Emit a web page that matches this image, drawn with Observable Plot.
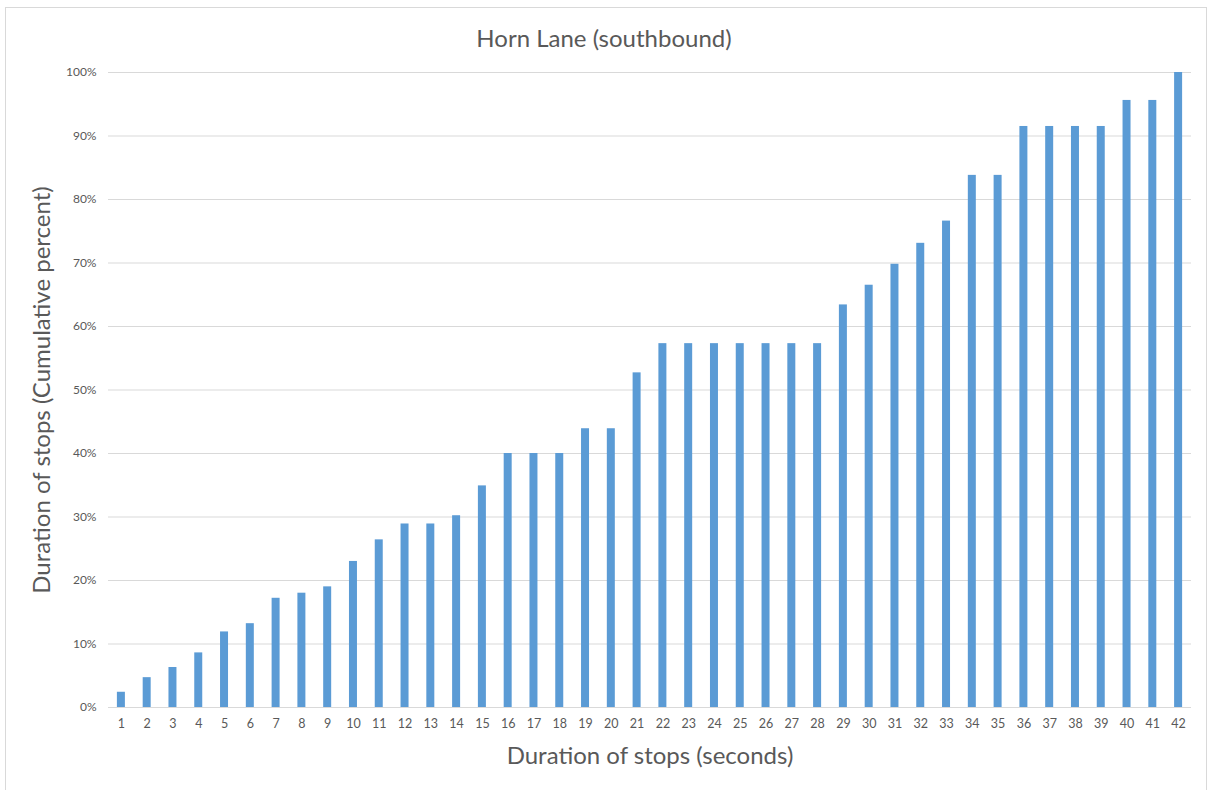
<!DOCTYPE html>
<html>
<head>
<meta charset="utf-8">
<script src="https://cdn.jsdelivr.net/npm/d3@7"></script>
<script src="https://cdn.jsdelivr.net/npm/@observablehq/plot@0.6"></script>
<style>
  html, body { margin: 0; padding: 0; background: #fff; }
  #wrap { position: relative; width: 1208px; height: 790px; overflow: hidden; font-family: Lato, "Open Sans", sans-serif; }
  #frame { position: absolute; left: 5px; top: 7px; width: 1202px; height: 800px; border: 1px solid #d9d9d9; box-sizing: border-box; }
  #title { position: relative; box-sizing: border-box; height: 56px; padding-top: 24px; line-height: 28px; text-align: center; font-size: 24px; color: #595959; }
  #chart { position: relative; }
</style>
</head>
<body>
<div id="wrap">
  <div id="frame"></div>
  <div id="title">Horn Lane (southbound)</div>
  <div id="chart"></div>
</div>
<script>
const durations = ["1","2","3","4","5","6","7","8","9","10","11","12","13","14","15","16","17","18","19","20","21","22","23","24","25","26","27","28","29","30","31","32","33","34","35","36","37","38","39","40","41","42"];
const cumulativePercent = [2.4, 4.7, 6.3, 8.6, 11.9, 13.2, 17.2, 18.0, 19.0, 23.0, 26.4, 28.9, 28.9, 30.2, 34.9, 40.0, 40.0, 40.0, 43.9, 43.9, 52.7, 57.3, 57.3, 57.3, 57.3, 57.3, 57.3, 57.3, 63.4, 66.5, 69.8, 73.1, 76.6, 83.8, 83.8, 91.5, 91.5, 91.5, 91.5, 95.6, 95.6, 100];
const yTicks = [0, 10, 20, 30, 40, 50, 60, 70, 80, 90, 100];
const xTitle = "Duration of stops (seconds)";
const yTitle = "Duration of stops (Cumulative percent)";

const data = durations.map((d, i) => ({duration: d, pct: cumulativePercent[i]}));

const chart = Plot.plot({
  width: 1208,
  height: 734,
  marginTop: 16,
  marginBottom: 83,
  marginLeft: 108,
  marginRight: 17,
  style: {fontFamily: "Lato, 'Open Sans', sans-serif", color: "#595959", background: "transparent", overflow: "visible"},
  x: {type: "band", domain: durations, paddingInner: 0.69, paddingOuter: 0.345},
  y: {domain: [0, 100]},
  marks: [
    Plot.gridY(yTicks, {stroke: "#d9d9d9", strokeOpacity: 1, strokeWidth: 1}),
    Plot.barY(data, {x: "duration", y: "pct", fill: "#5B9BD5"}),
    Plot.axisY(yTicks, {tickSize: 0, tickPadding: 12, tickFormat: d => d + "%", fontSize: 12, label: null, fill: "#595959"}),
    Plot.axisX({tickSize: 0, tickPadding: 12, fontSize: 12.5, label: null, fill: "#595959"}),
    Plot.text([xTitle], {frameAnchor: "bottom", lineAnchor: "middle", textAnchor: "middle", dy: 49, fontSize: 24, fill: "#595959"}),
    Plot.text([yTitle], {frameAnchor: "left", lineAnchor: "middle", textAnchor: "middle", rotate: -90, dx: -66, fontSize: 24, fill: "#595959"})
  ]
});
document.getElementById("chart").appendChild(chart);
</script>
</body>
</html>
